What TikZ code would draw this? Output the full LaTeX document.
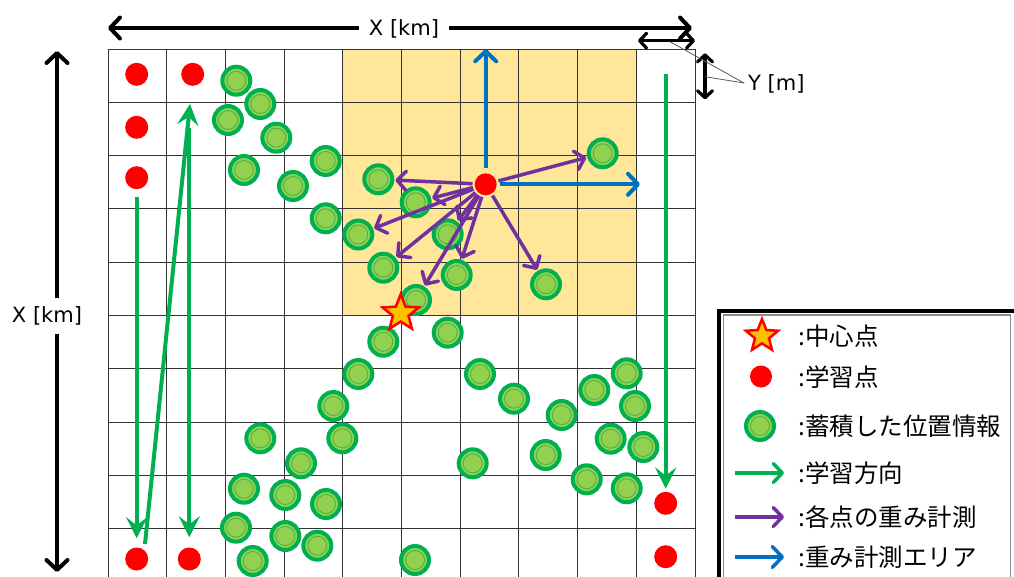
\documentclass[tikz,border=0pt]{standalone}
\usepackage{fontspec}
\setmainfont{DejaVu Sans}
\newfontfamily\jp{Noto Sans CJK JP}
\usetikzlibrary{arrows.meta,shapes.geometric}
\definecolor{dgreen}{HTML}{00B050}
\definecolor{lgreen}{HTML}{92D050}
\definecolor{ringgreen}{HTML}{3DB54A}
\definecolor{purp}{HTML}{7030A0}
\definecolor{blu}{HTML}{0070C0}
\definecolor{orangeA}{HTML}{FFE699}
\definecolor{starY}{HTML}{FFC000}
\begin{document}
\begin{tikzpicture}[x=1pt,y=-1pt,
  gridline/.style={draw=black!80, line width=1pt},
  gdot/.style={circle, inner sep=0pt, minimum size=28pt, fill=lgreen, draw=dgreen, line width=4pt,
    path picture={\draw[draw=ringgreen, line width=0.8pt] (path picture bounding box.center) circle (9.5pt);}},
  rdot/.style={circle, inner sep=0pt, minimum size=23pt, fill=red},
  cstar/.style={star, star points=5, star point ratio=2.3, minimum size=38pt, inner sep=0pt, fill=starY, draw=red, line width=2.5pt},
  garrow/.style={draw=dgreen, line width=4pt, -{Stealth[length=21pt,width=21pt,inset=8pt]}},
  lgarrow/.style={draw=dgreen, line width=3.5pt, -{Straight Barb[length=9pt,width=19pt,round]}},
  parrow/.style={draw=purp, line width=3.5pt, -{Straight Barb[length=9pt,width=19pt,round]}},
  barrow/.style={draw=blu, line width=4pt, -{Straight Barb[length=10pt,width=21pt,round]}},
  karrow/.style={draw=black, line width=4pt, {Straight Barb[length=10pt,width=21pt,round]}-{Straight Barb[length=10pt,width=21pt,round]}},
  ksmall/.style={draw=black, line width=3.2pt, {Straight Barb[length=7pt,width=15pt,round]}-{Straight Barb[length=7pt,width=15pt,round]}},
  leader/.style={draw=black!65, line width=0.8pt},
  lab/.style={font=\fontsize{21}{25}\selectfont},
  jlab/.style={font=\jp\fontsize{24.5}{28}\selectfont, anchor=west, inner sep=0pt},
]
\useasboundingbox (0,0) rectangle (1014,576);
\clip (0,0) rectangle (1014,576);
\fill[white] (0,0) rectangle (1014,576);

% weight measurement area
\fill[orangeA] (343.3,49) rectangle (636,315.6);

% grid
\foreach \i in {0,...,10} {
  \draw[gridline] ({108.3+58.67*\i},49) -- ({108.3+58.67*\i},590);
  \draw[gridline] (108.3,{49+53.33*\i}) -- (695,{49+53.33*\i});
}

% learning points
\node[rdot] (r1) at (136.7,74.3) {};
\node[rdot] (r2) at (192.7,74.3) {};
\node[rdot] (r3) at (136.7,127.3) {};
\node[rdot] (r4) at (136.7,177.7) {};
\node[rdot] (r5) at (136.7,559) {};
\node[rdot] (r6) at (189.3,559) {};
\node[rdot] (r7) at (665.7,503.3) {};
\node[rdot] (r8) at (665.7,556.7) {};

% learning direction
\coordinate (a2s) at (145,544);
\coordinate (a2e) at (190,104);
\coordinate (a3s) at (189.3,128.3);
\coordinate (a4s) at (665.7,74.3);
\draw[garrow, shorten <=8pt, shorten >=9pt] (r4) -- (r5);
\draw[garrow] (a2s) -- (a2e);
\draw[garrow, shorten >=10pt] (a3s) -- (r6);
\draw[garrow, shorten >=3pt] (a4s) -- (r7);

% accumulated positions
\foreach \n/\x/\y in {
 1/236.3/80.7, 2/260.3/104, 3/228/120, 4/276.3/137.7, 5/244/170, 6/325.7/161,
 7/293/186, 8/378.3/179.3, 9/325.7/218.3, 10/358.3/234.5, 11/383.3/267.7,
 12/415.7/202.3, 13/447.7/234.3, 14/456.7/275, 15/416/300, 16/546/284.3,
 17/602.7/153.3, 18/383.3/341.7, 19/358.3/374, 20/333.3/406, 21/342.3/438.3,
 22/260.3/438.3, 23/301/463.3, 24/244/488.7, 25/285.3/495, 26/326/504,
 27/236/527.7, 28/285.3/536, 29/317.3/545.7, 30/252.7/561, 31/447.7/332.7,
 32/480/374, 33/514/398.7, 34/561.7/415, 35/594.3/390, 36/626.7/373.3,
 37/635/406, 38/610.7/438.7, 39/643.3/447, 40/545.7/455, 41/472.7/463.3,
 42/586.7/479.3, 43/626.7/488.3, 44/415/560}
 \node[gdot] (g\n) at (\x,\y) {};

% centre learning point
\node[rdot, minimum size=22pt] (c) at (485.7,184.3) {};

% weight measurement arrows
\foreach \t in {8,17,12,10,11,15,13,14,16}
  \draw[parrow, shorten <=2pt, shorten >=1pt] (c) -- (g\t);

% measurement area arrows
\coordinate (bu) at (485.7,49.3);
\coordinate (br) at (640,184.3);
\draw[barrow, shorten <=5pt] (c) -- (bu);
\draw[barrow, shorten <=3pt] (c) -- (br);

% centre point
\node[cstar] (s) at (400.7,313.3) {};

% dimension arrows
\coordinate (tl) at (108,28);
\coordinate (tr) at (692,28);
\draw[karrow] (tl) -- (tr);
\node[lab, fill=white, inner xsep=10pt, inner ysep=3pt] (xt) at (404,29) {X [km]};

\coordinate (lt) at (57,51);
\coordinate (lb) at (57,572);
\draw[karrow] (lt) -- (lb);
\node[lab, fill=white, inner xsep=2pt, inner ysep=9pt] (xl) at (47,316) {X [km]};

\coordinate (hl) at (638,40.7);
\coordinate (hr) at (695,40.7);
\draw[ksmall] (hl) -- (hr);
\coordinate (vt) at (705,53.3);
\coordinate (vb) at (705,99.3);
\draw[ksmall] (vt) -- (vb);

\node[lab, anchor=west, inner sep=0pt] (yl) at (748,84) {Y [m]};
\coordinate (ylp) at (744,83);
\coordinate (yl1) at (670,41.7);
\coordinate (yl2) at (705,76.7);
\draw[leader] (ylp) -- (yl1);
\draw[leader] (ylp) -- (yl2);

% legend
\draw[line width=4pt, fill=white] (719,310.5) rectangle (1018,600);
\draw[draw=black!45, line width=1.8pt] (723.5,315) rectangle (1010.5,600);

\node[cstar, minimum size=34pt] (ls) at (762,336) {};
\node[jlab] (lt1) at (798,336) {:中心点};
\node[rdot, minimum size=22pt] (lr) at (761,376.5) {};
\node[jlab] (lt2) at (798,377) {:学習点};
\node[gdot] (lg) at (760,426) {};
\node[jlab] (lt3) at (798,426) {:蓄積した位置情報};
\coordinate (lga) at (735,473);
\coordinate (lgb) at (784,473);
\draw[lgarrow] (lga) -- (lgb);
\node[jlab] (lt4) at (798,473.5) {:学習方向};
\coordinate (lpa) at (735,517);
\coordinate (lpb) at (784,517);
\draw[parrow] (lpa) -- (lpb);
\node[jlab] (lt5) at (798,517) {:各点の重み計測};
\coordinate (lba) at (735,557);
\coordinate (lbb) at (784,557);
\draw[barrow, line width=3.5pt] (lba) -- (lbb);
\node[jlab] (lt6) at (798,557) {:重み計測エリア};
\end{tikzpicture}
\end{document}
